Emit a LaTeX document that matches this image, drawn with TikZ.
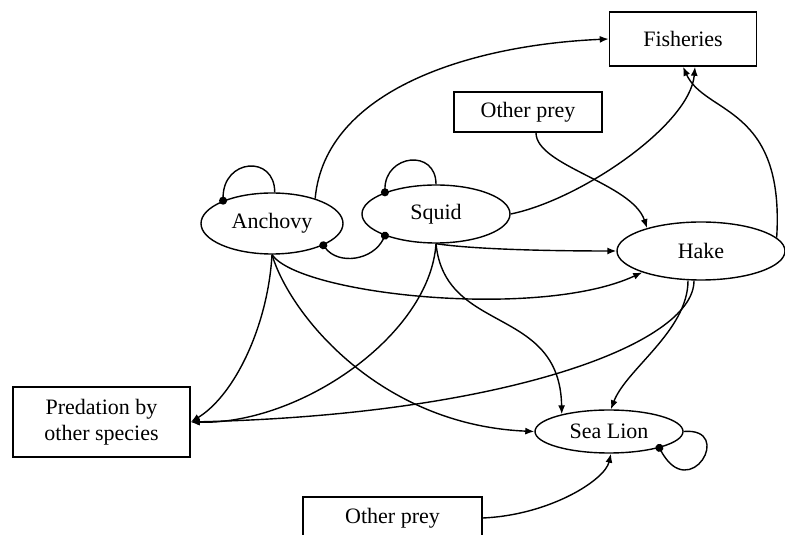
\documentclass[tikz,border=0pt]{standalone}
\usepackage{fontspec}
\setmainfont{Liberation Serif}
\usetikzlibrary{shapes.geometric,arrows.meta}
\begin{document}
\begin{tikzpicture}[x=1pt,y=1pt,
  every node/.style={font=\fontsize{22}{26}\selectfont},
  box/.style={draw, line width=1.6pt, rectangle, inner sep=0pt, align=center},
  oval/.style={draw, line width=1.4pt, ellipse, inner sep=0pt},
  link/.style={line width=1.4pt, -{Latex[length=9pt,width=7pt]}},
  neg/.style={line width=1.4pt, -{Circle[length=8pt]}, shorten >=-4pt},
  negboth/.style={line width=1.4pt, {Circle[length=8pt]}-{Circle[length=8pt]}, shorten >=-4pt, shorten <=-4pt}]
\useasboundingbox (0,0) rectangle (785,535);
% nodes
\node[box, minimum width=147pt, minimum height=54pt] (fish) at (683,496) {Fisheries};
\node[box, minimum width=148pt, minimum height=40pt] (opt) at (528,423) {Other prey};
\node[oval, minimum width=142pt, minimum height=61pt] (anch) at (272,311.5) {Anchovy};
\node[oval, minimum width=148pt, minimum height=58pt] (sq) at (436,321) {Squid};
\node[oval, minimum width=168pt, minimum height=58pt] (hake) at (701,284) {Hake};
\node[box, minimum width=177pt, minimum height=70pt] (pred) at (101.5,113) {Predation by\\other species};
\node[oval, minimum width=148pt, minimum height=43pt] (sl) at (609,103.5) {Sea Lion};
\node[box, minimum width=179pt, minimum height=42pt] (opb) at (392.5,17) {Other prey};
% self loops and negative links
\draw[neg] (anch.85) .. controls +(0,38) and +(0,42) .. (anch.155);
\draw[neg] (sq.90) .. controls +(0,36) and +(0,38) .. (sq.157);
\draw[negboth] (anch.337) .. controls +(15,-20) and +(-12,-25) .. (sq.203);
\draw[neg] (sl.east) .. controls (735,108) and (690,30) .. (sl.-18);
% to fisheries
\draw[link] (anch.30) .. controls (325,445) and (470,490) .. (fish.west);
\draw[link] (sq.east) .. controls (580,335) and (690,410) .. ([xshift=12pt]fish.south);
\draw[link] (hake.10) .. controls (785,430) and (705,420) .. (fish.south);
% to hake
\draw[link] ([xshift=8pt]opt.south) .. controls +(0,-33) and +(-15,45) .. (hake.157);
\draw[link] (sq.south) .. controls +(40,-6) and +(-60,0) .. (hake.west);
\draw[link] (anch.south) .. controls (300,240) and (540,215) .. (hake.200);
% to predation
\draw[link] (anch.south) .. controls (268,210) and (235,140) .. (pred.east);
\draw[link] (sq.south) .. controls (430,200) and (300,110) .. (pred.east);
\draw[link] ([xshift=-7pt]hake.south) .. controls (694,190) and (500,120) .. (pred.east);
% to sea lion
\draw[link] (anch.south) .. controls (290,220) and (380,110) .. (sl.west);
\draw[link] (sq.south) .. controls (445,200) and (560,230) .. (sl.160);
\draw[link] ([xshift=-13pt]hake.south) .. controls +(0,-50) and +(15,40) .. (sl.85);
\draw[link] (opb.east) .. controls (550,20) and (605,55) .. (sl.-85);
\end{tikzpicture}
\end{document}
